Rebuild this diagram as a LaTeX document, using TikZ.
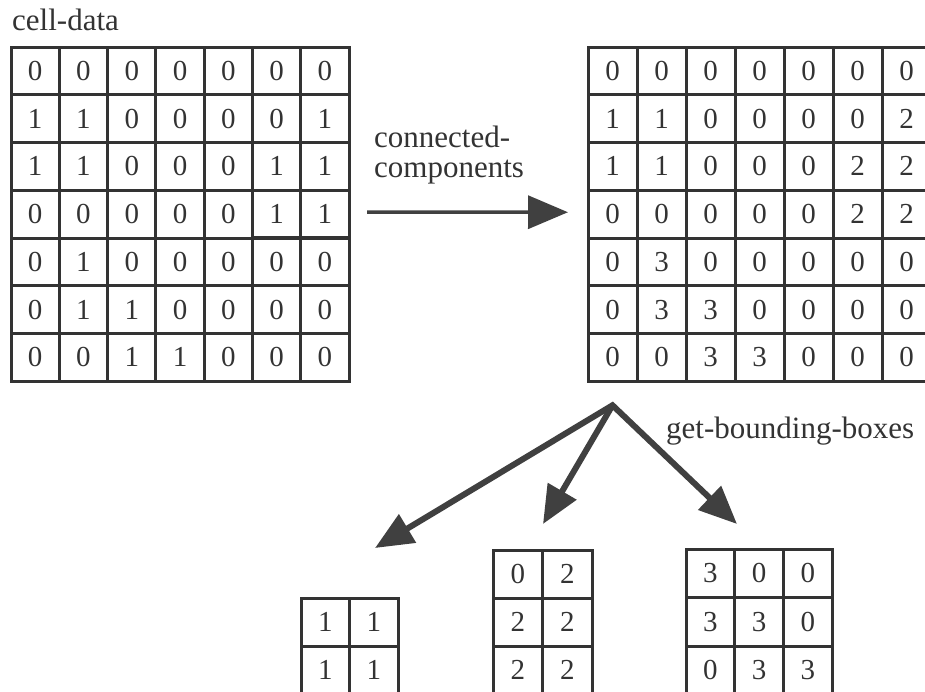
\documentclass[tikz,border=0pt]{standalone}
\usepackage{fontspec}
\setmainfont{Liberation Serif}
\usetikzlibrary{matrix,arrows.meta,calc}
\definecolor{ink}{HTML}{333333}
\definecolor{arrowgray}{HTML}{404040}
\tikzset{numgrid/.style 2 args={matrix of nodes, inner sep=0pt, outer sep=0pt, anchor=north west,
  column sep=-3pt, row sep=-3pt,
  nodes={draw=ink, line width=3pt, minimum width=#1, minimum height=#2, inner sep=0pt, outer sep=0pt, text=ink, font=\fontsize{29}{29}\selectfont}}}
\tikzset{lbl/.style={inner sep=0pt, text=ink, font=\fontsize{31}{31}\selectfont}}
\tikzset{flow/.style={draw=arrowgray, line width=3.5pt, -{Triangle[length=40pt,width=33pt]}}}
\tikzset{split/.style={draw=arrowgray, line width=6pt, line join=miter, {Triangle[length=38pt,width=32pt]}-{Triangle[length=38pt,width=32pt]}}}
\tikzset{splitone/.style={draw=arrowgray, line width=6pt, -{Triangle[length=38pt,width=32pt]}}}
\begin{document}
\begin{tikzpicture}[x=1pt, y=-1pt]
\useasboundingbox (0,0) rectangle (925,691);
\node (celldata) [lbl, anchor=base west] at (12,30) {cell-data};
\matrix (in) [numgrid={48.3pt}{47.7pt}] at (9.5,45.5) {
0 & 0 & 0 & 0 & 0 & 0 & 0 \\
1 & 1 & 0 & 0 & 0 & 0 & 1 \\
1 & 1 & 0 & 0 & 0 & 1 & 1 \\
0 & 0 & 0 & 0 & 0 & 1 & 1 \\
0 & 1 & 0 & 0 & 0 & 0 & 0 \\
0 & 1 & 1 & 0 & 0 & 0 & 0 \\
0 & 0 & 1 & 1 & 0 & 0 & 0 \\
};
\matrix (cc) [numgrid={49pt}{47.7pt}] at (586.5,45.5) {
0 & 0 & 0 & 0 & 0 & 0 & 0 \\
1 & 1 & 0 & 0 & 0 & 0 & 2 \\
1 & 1 & 0 & 0 & 0 & 2 & 2 \\
0 & 0 & 0 & 0 & 0 & 2 & 2 \\
0 & 3 & 0 & 0 & 0 & 0 & 0 \\
0 & 3 & 3 & 0 & 0 & 0 & 0 \\
0 & 0 & 3 & 3 & 0 & 0 & 0 \\
};
\node (cclabel) [lbl, anchor=base west] at (374,147) {connected-};
\node (cclabeltwo) [lbl, anchor=base west] at (374,177) {components};
\draw[flow, shorten <=18pt, shorten >=20pt] ([yshift=2pt]in-4-7.east) -- ([yshift=2pt]cc-4-1.west);
\matrix (bbA) [numgrid={48.5pt}{48pt}] at (299.5,596.5) {
1 & 1 \\
1 & 1 \\
};
\matrix (bbB) [numgrid={49.5pt}{48pt}] at (491.5,548.5) {
0 & 2 \\
2 & 2 \\
2 & 2 \\
};
\matrix (bbC) [numgrid={48.7pt}{48.5pt}] at (684.5,547.5) {
3 & 0 & 0 \\
3 & 3 & 0 \\
0 & 3 & 3 \\
};
\node (bblabel) [lbl, anchor=base west] at (666,438) {get-bounding-boxes};
\coordinate (apex) at ($(cc-7-1.south)+(0,24)$);
\coordinate (tipA) at (375,548);
\coordinate (tipB) at (543,524);
\coordinate (tipC) at (737,524);
\draw[split] (tipA) -- (apex) -- (tipC);
\draw[splitone] (apex) -- (tipB);
\end{tikzpicture}
\end{document}
